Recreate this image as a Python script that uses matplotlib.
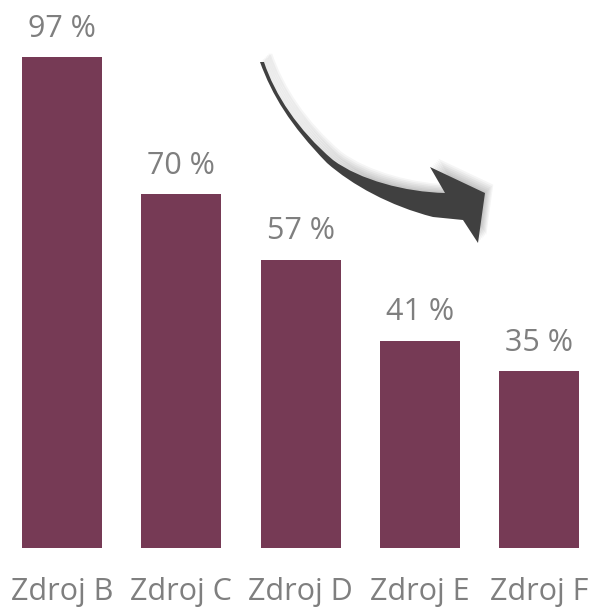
import matplotlib
matplotlib.use("Agg")
import matplotlib.pyplot as plt
from matplotlib.patches import PathPatch
from matplotlib.path import Path
import matplotlib.patheffects as pe

categories = ["Zdroj B", "Zdroj C", "Zdroj D", "Zdroj E", "Zdroj F"]
values = [97, 70, 57, 41, 35]

BAR = "#763A55"
GREY = "#7F7F7F"
plt.rcParams['font.family'] = ['Open Sans', 'DejaVu Sans']

W, H = 592, 615
fig = plt.figure(figsize=(W / 100, H / 100), dpi=100)
ax = fig.add_axes([2.4 / W, 67 / H, 596.5 / W, 548 / H])
x = range(len(categories))
bars = ax.bar(x, values, width=0.67, color=BAR)
ax.set_xlim(-0.5, 4.5)
ax.set_ylim(0, 548 / 5.06)
for b, v in zip(bars, values):
    ax.annotate(f"{v} %", (b.get_x() + b.get_width() / 2, v), xytext=(0, 14.5),
                textcoords="offset points", ha="center", va="baseline",
                fontsize=22, color=GREY)
ax.set_xticks(list(x))
ax.set_xticklabels(categories, fontsize=22, color=GREY)
ax.tick_params(axis='x', length=0, pad=21)
ax.set_yticks([])
for s in ax.spines.values():
    s.set_visible(False)

# decorative curved arrow (figure pixel coordinates, origin top-left)
def P(px, py):
    return (px, H - py)

verts = [
    P(260, 62),
    P(272, 95), P(290, 125), P(327, 163),
    P(352, 185), P(390, 206), P(433, 217),
    P(463, 220),
    P(478, 243),
    P(485, 193),
    P(430, 167),
    P(445, 193),
    P(405, 192), P(360, 180), P(333, 160),
    P(298, 130), P(275, 95), P(264, 62),
    P(260, 62),
]
codes = [Path.MOVETO,
         Path.CURVE4, Path.CURVE4, Path.CURVE4,
         Path.CURVE4, Path.CURVE4, Path.CURVE4,
         Path.LINETO, Path.LINETO, Path.LINETO, Path.LINETO, Path.LINETO,
         Path.CURVE4, Path.CURVE4, Path.CURVE4,
         Path.CURVE4, Path.CURVE4, Path.CURVE4,
         Path.CLOSEPOLY]
path = Path(verts, codes)
ov = fig.add_axes([0, 0, 1, 1], facecolor='none')
ov.set_xlim(0, W)
ov.set_ylim(0, H)
ov.axis('off')
shadows = [pe.SimplePatchShadow(offset=(d, d), shadow_rgbFace="#000000", alpha=0.04)
           for d in (1, 2, 3, 4, 5, 6)]
patch = PathPatch(path, facecolor="#404040", edgecolor="none",
                  path_effects=shadows + [pe.Normal()])
ov.add_patch(patch)

fig.savefig("out.png", dpi=100)
